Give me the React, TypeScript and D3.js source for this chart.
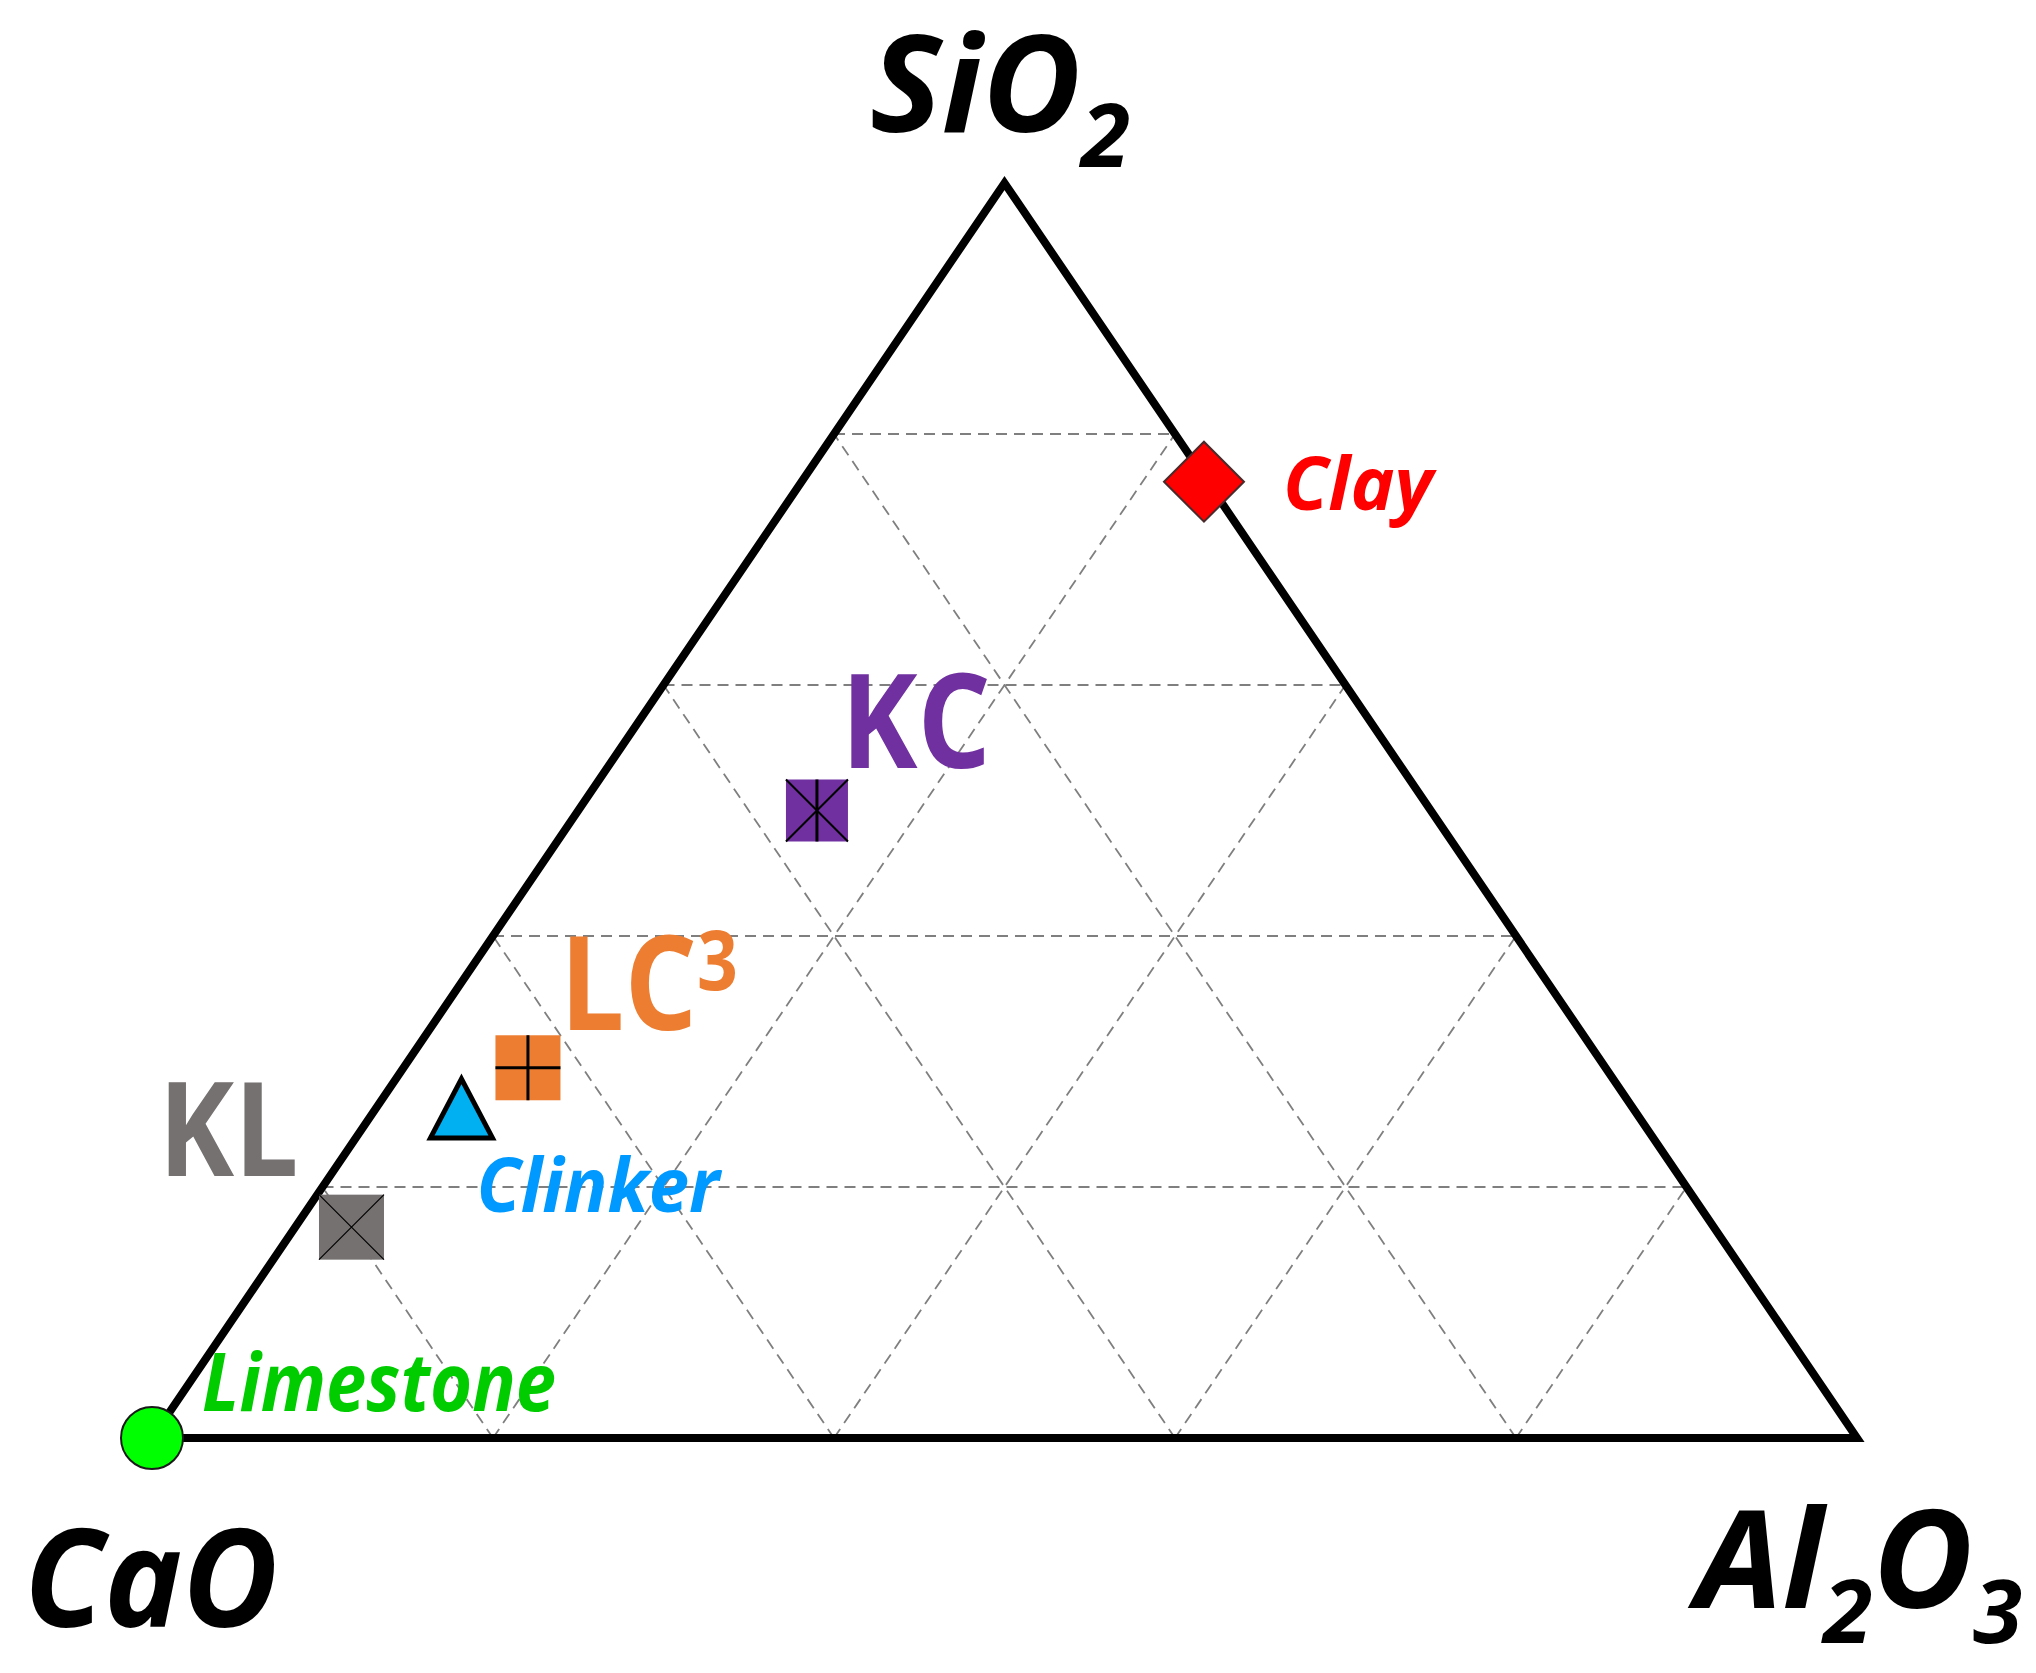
import React from 'react';
import * as d3 from 'd3';

// ternary data, percent by mass (CaO + Al2O3 + SiO2 = 100)
const materials = ['Limestone', 'Clay', 'KL', 'Clinker', 'LC3', 'KC'];
const caoValues = [100, 0.2, 79.9, 68.7, 63.2, 36];
const al2o3Values = [0, 23.6, 3.3, 5.0, 7.3, 14];
const sio2Values = [0, 76.2, 16.8, 26.3, 29.5, 50];
const gridTicks = [20, 40, 60, 80];

const W = 2036;
const H = 1673;

// base coordinate runs CaO -> Al2O3, height is SiO2
const xScale = d3.scaleLinear().domain([0, 100]).range([152, 1857]);
const yScale = d3.scaleLinear().domain([0, 100]).range([1438, 183]);

const project = (cao: number, al: number, si: number): [number, number] => {
	const total = cao + al + si;
	const a = (al / total) * 100;
	const s = (si / total) * 100;
	return [xScale(a + s / 2), yScale(s)];
};

const line = d3.line();

const markerStyle: any = {
	Limestone: { shape: 'circle', fill: '#00FF00' },
	Clay: { shape: 'diamond', fill: '#FF0000' },
	KL: { shape: 'xsquare', fill: '#767171' },
	Clinker: { shape: 'triangle', fill: '#00B0F0' },
	LC3: { shape: 'plus', fill: '#ED7D31' },
	KC: { shape: 'star', fill: '#7030A0' },
};

const labelStyle: any = {
	Limestone: { dx: 50, dy: -27, size: 80, color: '#00CC00', italic: true, len: 354 },
	Clay: { dx: 79, dy: 28, size: 74, color: '#FF0000', italic: true, len: 150 },
	KL: { dx: -193, dy: -51, size: 131, color: '#767171', italic: false, len: 140 },
	Clinker: { dx: 15, dy: 104, size: 76, color: '#0099FF', italic: true, len: 243 },
	LC3: { dx: 32, dy: -38, size: 131, color: '#ED7D31', italic: false, len: 178 },
	KC: { dx: 24, dy: -43, size: 131, color: '#7030A0', italic: false, len: 150 },
};

const FONT = '"Open Sans", "Noto Sans", sans-serif';

const Marker = ({ name, x, y }: { name: string; x: number; y: number }) => {
	const st = markerStyle[name];
	if (st.shape === 'circle') {
		return <circle cx={x} cy={y} r={31} fill={st.fill} stroke="#1a1a1a" strokeWidth={2} />;
	}
	if (st.shape === 'diamond') {
		const r = 40;
		return (
			<path
				d={`M${x},${y - r}L${x + r},${y}L${x},${y + r}L${x - r},${y}Z`}
				fill={st.fill}
				stroke="#4a2a2a"
				strokeWidth={2}
			/>
		);
	}
	if (st.shape === 'triangle') {
		return (
			<path
				d={`M${x},${y - 29}L${x + 31},${y + 30}L${x - 31},${y + 30}Z`}
				fill={st.fill}
				stroke="#000"
				strokeWidth={5}
			/>
		);
	}
	const h = name === 'KC' ? 31 : 32.5;
	return (
		<g>
			<rect x={x - h} y={y - h} width={2 * h} height={2 * h} fill={st.fill} />
			{(st.shape === 'xsquare' || st.shape === 'star') && (
				<path
					d={`M${x - h},${y - h}L${x + h},${y + h}M${x + h},${y - h}L${x - h},${y + h}`}
					stroke="#000"
					strokeWidth={st.shape === 'star' ? 2 : 1.2}
				/>
			)}
			{st.shape === 'star' && <path d={`M${x},${y - h}L${x},${y + h}`} stroke="#000" strokeWidth={3} />}
			{st.shape === 'plus' && (
				<path d={`M${x},${y - h}L${x},${y + h}M${x - h},${y}L${x + h},${y}`} stroke="#000" strokeWidth={3} />
			)}
		</g>
	);
};

export default function App() {
	// grid lines at constant SiO2, CaO and Al2O3
	const grid: [number, number][][] = [];
	gridTicks.forEach((t) => {
		grid.push([project(100 - t, 0, t), project(0, 100 - t, t)]);
		grid.push([project(t, 100 - t, 0), project(t, 0, 100 - t)]);
		grid.push([project(100 - t, t, 0), project(0, t, 100 - t)]);
	});
	const outline = [project(100, 0, 0), project(0, 100, 0), project(0, 0, 100)];

	const points = materials.map((m, i) => {
		const [x, y] = project(caoValues[i], al2o3Values[i], sio2Values[i]);
		return { name: m, x, y };
	});

	return (
		<svg
			width={W}
			height={H}
			style={{ position: 'absolute', left: 0, top: 0 }}
			fontFamily={FONT}
		>
			<rect width={W} height={H} fill="#fff" />
			{grid.map((g, i) => (
				<path key={i} d={line(g) || ''} fill="none" stroke="#7f7f7f" strokeWidth={1.8} strokeDasharray="11,7" />
			))}
			<path d={(line(outline) || '') + 'Z'} fill="none" stroke="#000" strokeWidth={8} strokeLinejoin="miter" />

			{points.map((p) => (
				<Marker key={p.name} name={p.name} x={p.x} y={p.y} />
			))}

			{points.map((p) => {
				const ls = labelStyle[p.name];
				return (
					<text
						key={'l' + p.name}
						x={p.x + ls.dx}
						y={p.y + ls.dy}
						fontSize={ls.size}
						fontWeight="bold"
						fontStyle={ls.italic ? 'italic' : 'normal'}
						fill={ls.color}
						textLength={ls.len}
						lengthAdjust="spacingAndGlyphs"
					>
						{p.name === 'LC3' ? (
							<>
								LC
								<tspan dy={-40} fontSize={82}>
									3
								</tspan>
							</>
						) : (
							p.name
						)}
					</text>
				);
			})}

			{/* vertex labels */}
			<text
				x={870}
				y={132}
				fontSize={134}
				fontWeight="bold"
				fontStyle="italic"
				textLength={260}
				lengthAdjust="spacingAndGlyphs"
			>
				SiO
				<tspan dy={35} fontSize={88}>
					2
				</tspan>
			</text>
			<text
				x={24}
				y={1627}
				fontSize={136}
				fontWeight="bold"
				fontStyle="italic"
				textLength={254}
				lengthAdjust="spacingAndGlyphs"
			>
				CaO
			</text>
			<text
				x={1696}
				y={1608}
				fontSize={136}
				fontWeight="bold"
				fontStyle="italic"
				textLength={326}
				lengthAdjust="spacingAndGlyphs"
			>
				Al
				<tspan dy={35} fontSize={88}>
					2
				</tspan>
				<tspan dy={-35}>O</tspan>
				<tspan dy={35} fontSize={88}>
					3
				</tspan>
			</text>
		</svg>
	);
}
